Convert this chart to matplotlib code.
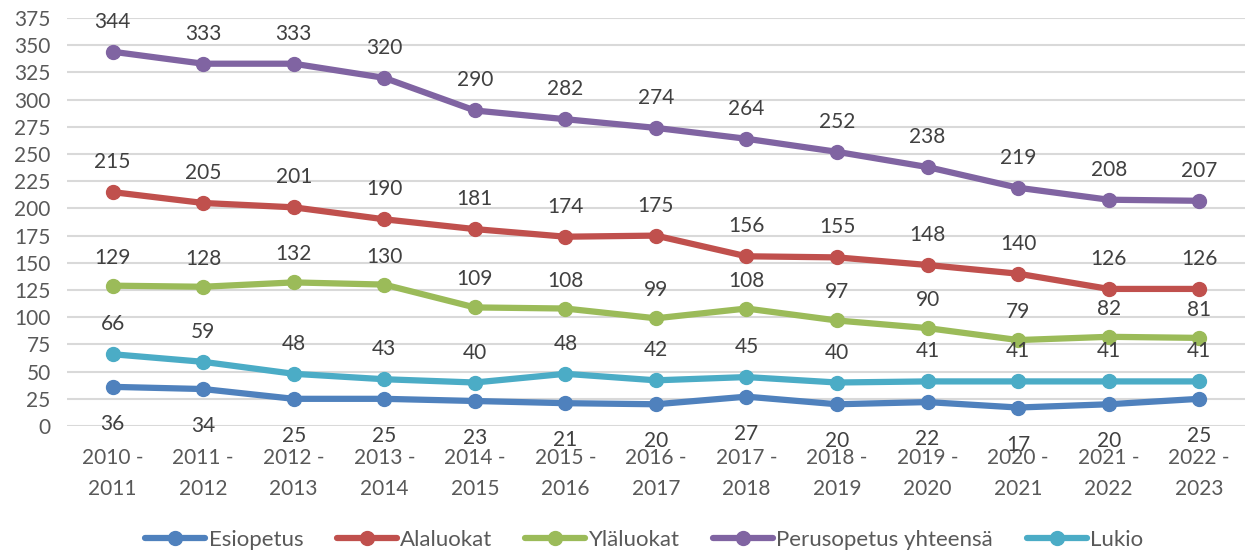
import matplotlib
matplotlib.use("Agg")
import matplotlib.pyplot as plt

plt.rcParams['font.family'] = ['Lato', 'DejaVu Sans']

# lukuvuodet ja oppilasmäärät
years = ["2010 -\n2011", "2011 -\n2012", "2012 -\n2013", "2013 -\n2014", "2014 -\n2015",
         "2015 -\n2016", "2016 -\n2017", "2017 -\n2018", "2018 -\n2019", "2019 -\n2020",
         "2020 -\n2021", "2021 -\n2022", "2022 -\n2023"]
esiopetus = [36, 34, 25, 25, 23, 21, 20, 27, 20, 22, 17, 20, 25]
alaluokat = [215, 205, 201, 190, 181, 174, 175, 156, 155, 148, 140, 126, 126]
ylaluokat = [129, 128, 132, 130, 109, 108, 99, 108, 97, 90, 79, 82, 81]
perusopetus = [344, 333, 333, 320, 290, 282, 274, 264, 252, 238, 219, 208, 207]
lukio = [66, 59, 48, 43, 40, 48, 42, 45, 40, 41, 41, 41, 41]

series = [
    ("Esiopetus", esiopetus, "#4F81BD", -37),
    ("Alaluokat", alaluokat, "#C0504D", 30),
    ("Yläluokat", ylaluokat, "#9BBB59", 28),
    ("Perusopetus yhteensä", perusopetus, "#8064A2", 30),
    ("Lukio", lukio, "#4BACC6", 30),
]

fig = plt.figure(figsize=(12.47, 5.54), dpi=100)
ax = fig.add_axes([0.054, 0.231, 0.944, 0.7365])

x = list(range(len(years)))
for name, vals, color, off in series:
    ax.plot(x, vals, color=color, linewidth=4.5, marker="o", markersize=10,
            label=name, solid_capstyle="round", zorder=3)
    for xi, v in zip(x, vals):
        ax.annotate(str(v), (xi, v), xytext=(0, off), textcoords="offset pixels",
                    ha="center", va="center", fontsize=15, color="#404040", zorder=4)

ax.set_xlim(-0.5, len(years) - 0.5)
ax.set_ylim(0, 375)
ax.set_yticks(range(0, 376, 25))
ax.set_xticks(x)
ax.set_xticklabels(years, linespacing=1.65)
ax.tick_params(axis="both", length=0, labelsize=15, colors="#595959")
ax.tick_params(axis="y", pad=12)
ax.tick_params(axis="x", pad=16)
ax.grid(axis="y", color="#D9D9D9", linewidth=1.5)
ax.set_axisbelow(True)
for s in ax.spines.values():
    s.set_visible(False)

ax.legend(loc="upper center", bbox_to_anchor=(0.49, -0.205), ncol=5, frameon=False,
          fontsize=16, handlelength=2.7, handletextpad=0.15, columnspacing=1.5,
          labelcolor="#595959")

fig.savefig("out.png", dpi=100)
